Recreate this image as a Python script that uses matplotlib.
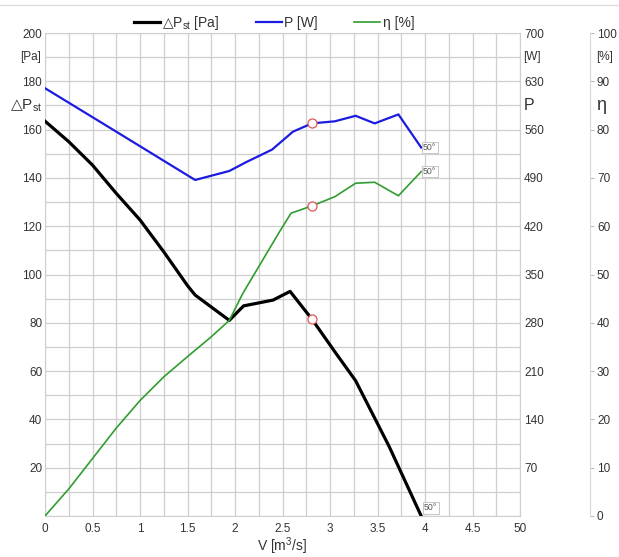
import numpy as np
import matplotlib
matplotlib.use("Agg")
import matplotlib.pyplot as plt
from matplotlib.lines import Line2D
from matplotlib.transforms import blended_transform_factory

plt.rcParams["font.family"] = ["Liberation Sans", "DejaVu Sans"]
plt.rcParams["mathtext.fontset"] = "custom"
plt.rcParams["mathtext.rm"] = "Liberation Sans"
plt.rcParams["mathtext.it"] = "Liberation Sans:italic"
plt.rcParams["mathtext.sf"] = "DejaVu Sans"   # only used for the triangle glyph

# ---- data ----
v_dp = [0, 0.25, 0.5, 0.75, 1.0, 1.25, 1.5, 1.58, 1.94, 2.09, 2.40, 2.58, 2.81, 3.06, 3.27, 3.62, 3.96]
dp = [163.5, 155, 145.3, 133.6, 122.6, 109.4, 95.4, 91.5, 81, 87, 89.4, 93, 81.5, 67.5, 56, 29, 0]

v_p = [0, 0.75, 1.58, 1.94, 2.12, 2.39, 2.61, 2.81, 3.05, 3.27, 3.47, 3.72, 3.96]
power = [620, 557, 487, 500, 513, 531, 557, 569, 572, 580, 569, 582, 534]

v_eta = [0, 0.25, 0.5, 0.75, 1.0, 1.25, 1.5, 1.75, 1.94, 2.08, 2.47, 2.59, 2.81, 3.05, 3.27, 3.47, 3.72, 3.96]
eta = [0, 5.6, 11.9, 18.2, 23.9, 28.8, 33.0, 37.1, 40.5, 46.0, 58.9, 62.7, 64.2, 66.1, 68.9, 69.1, 66.3, 71.3]

op_v = 2.81                        # marked operating point
op_dp, op_p, op_eta = 81.5, 569, 64.2

x_ticks = [0, 0.5, 1, 1.5, 2, 2.5, 3, 3.5, 4, 4.5, 5]
x_labels = ["0", "0.5", "1", "1.5", "2", "2.5", "3", "3.5", "4", "4.5", "50"]
dp_ticks = list(range(20, 201, 20))
p_ticks = list(range(70, 701, 70))
eta_ticks = list(range(0, 101, 10))

TRI = "$\\mathsf{△}$"
GRID = "#cfcfcf"
TXT = "#333333"
BLUE = "#1c1ce0"
GREEN = "#2f9d2f"
RED = "#e05555"

W, H = 619, 557
fig = plt.figure(figsize=(W / 100, H / 100), dpi=100)
L, R, B, T = 45, 520, 516, 33
ax = fig.add_axes([L / W, 1 - B / H, (R - L) / W, (B - T) / H])
ax2 = ax.twinx()
ax3 = ax.twinx()

# ---- grid / axes ----
ax.set_xlim(0, 5)
ax.set_ylim(0, 200)
ax2.set_ylim(0, 700)
ax3.set_ylim(0, 100)

ax.set_xticks(x_ticks)
ax.set_xticklabels(x_labels)
ax.set_xticks(np.arange(0, 5.01, 0.25), minor=True)
ax.set_yticks(dp_ticks)
ax.set_yticks(range(0, 201, 10), minor=True)
ax.grid(True, which="both", color=GRID, lw=0.9)
ax.set_axisbelow(True)
ax.tick_params(which="both", length=0, labelsize=8.5, labelcolor=TXT)
ax.tick_params(axis="y", pad=2)
ax.tick_params(axis="x", pad=5)
for s in ax.spines.values():
    s.set_color(GRID)

ax2.set_yticks(p_ticks)
ax2.tick_params(length=0, labelsize=8.5, labelcolor=TXT, pad=3)
for s in ax2.spines.values():
    s.set_visible(False)

ax3.spines["right"].set_position(("axes", (590 - L) / (R - L)))
for k, s in ax3.spines.items():
    s.set_visible(k == "right")
ax3.spines["right"].set_color("#d8d8d8")
ax3.set_yticks(eta_ticks)
ax3.tick_params(length=3, color="#bbbbbb", labelsize=8.5, labelcolor=TXT, pad=2)

# unit / name labels on the three scales
t_left = blended_transform_factory(ax.transAxes, ax.transData)
ax.text(-4 / (R - L), 190, "[Pa]", transform=t_left, ha="right", va="center", fontsize=8.5, color=TXT)
ax.text(-3 / (R - L), 170, TRI + "P$_{\\rm st}$", transform=t_left, ha="right", va="center", fontsize=11, color=TXT)
t_p = blended_transform_factory(ax2.transAxes, ax2.transData)
ax2.text(1 + 3 / (R - L), 665, "[W]", transform=t_p, ha="left", va="center", fontsize=8.5, color=TXT)
ax2.text(1 + 4 / (R - L), 595, "P", transform=t_p, ha="left", va="center", fontsize=11.5, color=TXT)
t_e = blended_transform_factory(ax3.transAxes, ax3.transData)
xe = (590 - L) / (R - L) + 6 / (R - L)
ax3.text(xe, 95, "[%]", transform=t_e, ha="left", va="center", fontsize=8.5, color=TXT)
ax3.text(xe, 85, "η", transform=t_e, ha="left", va="center", fontsize=13, color=TXT)

ax.set_xlabel("V [m$^3$/s]", fontsize=10, color=TXT, labelpad=0)

# ---- curves ----
l1, = ax.plot(v_dp, dp, color="black", lw=2.3, solid_joinstyle="round", zorder=3)
l2, = ax2.plot(v_p, power, color=BLUE, lw=1.6, solid_joinstyle="round", zorder=3)
l3, = ax3.plot(v_eta, eta, color=GREEN, lw=1.2, solid_joinstyle="round", zorder=3)

mk = dict(marker="o", ms=6.5, mfc="white", mec=RED, mew=0.9, ls="none", zorder=4)
ax.plot([op_v], [op_dp], **mk)
ax2.plot([op_v], [op_p], **mk)
ax3.plot([op_v], [op_eta], **mk)

box = dict(boxstyle="square,pad=0.15", fc="white", ec="#bdbdbd", lw=0.6)
ax.text(v_dp[-1] + 0.03, 1.5, "50°", fontsize=6.3, color="#555555", ha="left", va="bottom", bbox=box, zorder=5)
ax2.text(v_p[-1] + 0.02, power[-1], "50°", fontsize=6.3, color="#555555", ha="left", va="center", bbox=box, zorder=5)
ax3.text(v_eta[-1] + 0.02, eta[-1], "50°", fontsize=6.3, color="#555555", ha="left", va="center", bbox=box, zorder=5)

fig.legend([l1, l2, l3], [TRI + "P$_{\\rm st}$ [Pa]", "P [W]", "η [%]"],
           loc="upper center", bbox_to_anchor=(274 / W, 1 - 1 / H), ncol=3,
           frameon=False, fontsize=10, handlelength=1.9, handletextpad=0.15,
           columnspacing=2.6, labelcolor=TXT)

fig.add_artist(Line2D([0, 1], [1 - 5 / H, 1 - 5 / H], transform=fig.transFigure, color="#dddddd", lw=1))

fig.savefig("out.png", dpi=100)
